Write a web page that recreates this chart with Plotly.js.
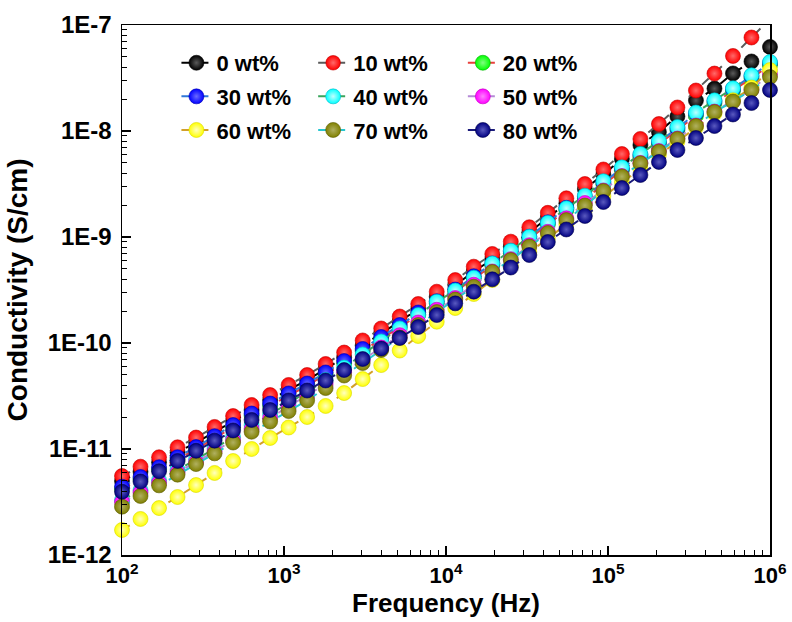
<!DOCTYPE html>
<html><head><meta charset="utf-8">
<script src="https://cdn.plot.ly/plotly-3.0.1.min.js"></script>
<style>html,body{margin:0;padding:0;background:#fff}#chart{width:792px;height:622px}</style>
</head><body><div id="chart"></div>
<script>
// Frequency grid (Hz)
const frequencyHz = [100, 130.1, 169.3, 220.2, 286.5, 372.8, 485.0, 631.0, 820.9, 1068, 1389, 1807, 2351, 3059, 3981, 5179, 6738, 8766, 11404, 14838, 19307, 25119, 32679, 42517, 55317, 71969, 93633, 121818, 158489, 206200, 268270, 349030, 454090, 590780, 768610, 1000000];

const seriesNames = ['0 wt%', '10 wt%', '20 wt%', '30 wt%', '40 wt%', '50 wt%', '60 wt%', '70 wt%', '80 wt%'];

// log10 of conductivity (S/cm)
const log10Sigma_0wt = [-11.302,-11.214,-11.125,-11.031,-10.939,-10.839,-10.736,-10.632,-10.538,-10.443,-10.349,-10.245,-10.137,-10.023,-9.910,-9.797,-9.679,-9.563,-9.453,-9.327,-9.207,-9.091,-8.955,-8.819,-8.682,-8.547,-8.410,-8.264,-8.132,-8.009,-7.863,-7.712,-7.600,-7.457,-7.344,-7.207];
const log10Sigma_10wt = [-11.255,-11.167,-11.078,-10.984,-10.892,-10.792,-10.689,-10.585,-10.491,-10.396,-10.302,-10.198,-10.090,-9.976,-9.863,-9.750,-9.632,-9.516,-9.406,-9.280,-9.160,-9.044,-8.908,-8.772,-8.635,-8.500,-8.363,-8.217,-8.075,-7.934,-7.778,-7.618,-7.458,-7.292,-7.118,-6.943];
const log10Sigma_20wt = [-11.376,-11.284,-11.192,-11.097,-11.002,-10.899,-10.794,-10.685,-10.591,-10.496,-10.402,-10.298,-10.190,-10.076,-9.963,-9.850,-9.732,-9.626,-9.516,-9.390,-9.270,-9.154,-9.018,-8.882,-8.745,-8.640,-8.503,-8.372,-8.246,-8.124,-7.991,-7.855,-7.737,-7.623,-7.501,-7.378];
const log10Sigma_30wt = [-11.356,-11.264,-11.172,-11.077,-10.982,-10.879,-10.774,-10.665,-10.571,-10.476,-10.382,-10.278,-10.170,-10.056,-9.943,-9.830,-9.712,-9.606,-9.496,-9.370,-9.250,-9.134,-8.998,-8.862,-8.725,-8.620,-8.483,-8.352,-8.226,-8.104,-7.971,-7.835,-7.717,-7.603,-7.481,-7.358];
const log10Sigma_40wt = [-11.481,-11.389,-11.295,-11.196,-11.100,-10.995,-10.887,-10.774,-10.670,-10.566,-10.462,-10.349,-10.232,-10.108,-9.986,-9.863,-9.736,-9.610,-9.505,-9.384,-9.250,-9.129,-8.998,-8.866,-8.729,-8.610,-8.473,-8.343,-8.217,-8.094,-7.962,-7.826,-7.710,-7.597,-7.474,-7.349];
const log10Sigma_50wt = [-11.500,-11.410,-11.318,-11.221,-11.126,-11.023,-10.917,-10.811,-10.708,-10.604,-10.500,-10.387,-10.276,-10.159,-10.042,-9.926,-9.806,-9.686,-9.576,-9.450,-9.325,-9.209,-9.078,-8.951,-8.824,-8.679,-8.561,-8.425,-8.301,-8.189,-8.071,-7.948,-7.817,-7.717,-7.609,-7.462];
const log10Sigma_60wt = [-11.764,-11.660,-11.557,-11.453,-11.340,-11.226,-11.113,-11.000,-10.896,-10.797,-10.698,-10.594,-10.472,-10.340,-10.208,-10.071,-9.934,-9.799,-9.670,-9.538,-9.406,-9.274,-9.142,-9.009,-8.877,-8.745,-8.613,-8.481,-8.354,-8.226,-8.099,-7.967,-7.835,-7.710,-7.590,-7.425];
const log10Sigma_70wt = [-11.544,-11.443,-11.343,-11.242,-11.142,-11.041,-10.939,-10.837,-10.741,-10.642,-10.542,-10.425,-10.307,-10.189,-10.066,-9.948,-9.830,-9.708,-9.590,-9.469,-9.330,-9.217,-9.090,-8.962,-8.840,-8.703,-8.566,-8.429,-8.305,-8.195,-8.075,-7.953,-7.821,-7.722,-7.613,-7.491];
const log10Sigma_80wt = [-11.403,-11.307,-11.210,-11.113,-11.017,-10.921,-10.825,-10.726,-10.632,-10.542,-10.448,-10.354,-10.255,-10.151,-10.052,-9.953,-9.849,-9.736,-9.626,-9.516,-9.399,-9.288,-9.170,-9.047,-8.929,-8.802,-8.670,-8.538,-8.415,-8.292,-8.179,-8.066,-7.953,-7.844,-7.736,-7.613];

const yTickVals = [1e-12, 1e-11, 1e-10, 1e-9, 1e-8, 1e-7];
const yTickText = ['1E-12', '1E-11', '1E-10', '1E-9', '1E-8', '1E-7'];
const xTickVals = [1e2, 1e3, 1e4, 1e5, 1e6];
const xTickText = ['10<sup>2</sup>', '10<sup>3</sup>', '10<sup>4</sup>', '10<sup>5</sup>', '10<sup>6</sup>'];

const allLog = [log10Sigma_0wt, log10Sigma_10wt, log10Sigma_20wt, log10Sigma_30wt, log10Sigma_40wt, log10Sigma_50wt, log10Sigma_60wt, log10Sigma_70wt, log10Sigma_80wt];

// styles
const markerColors = ['#000000', '#ff0000', '#00ff00', '#0000ff', '#00ffff', '#ff00ff', '#ffff00', '#808000', '#000080'];
const highlightColors = ['#5a5a5a', '#ff6a6a', '#80ff80', '#6a6aff', '#c0ffff', '#ff80ff', '#ffffc0', '#b0b060', '#5a5ac0'];
const edgeColors = ['#000000', '#c00000', '#00b000', '#0000b0', '#00b8c8', '#c000c0', '#d8d800', '#5a5a00', '#00004a'];
const lineColors = ['#000000', '#5a5a5a', '#e8403c', '#2f78d8', '#3aa55c', '#b58ad6', '#d2a02a', '#26c6d0', '#1a1a7a'];
const legendOf = ['legend', 'legend2', 'legend3', 'legend', 'legend2', 'legend3', 'legend', 'legend2', 'legend3'];

const yMin = -12, yMax = -7;
const traces = allLog.map((lg, i) => {
  const y = lg.map(v => Math.pow(10, v));
  const sizes = lg.map(v => (v > yMax ? 0 : 15));
  return {
    type: 'scatter', mode: 'lines+markers', name: seriesNames[i],
    x: frequencyHz, y: y,
    cliponaxis: false,
    legend: legendOf[i], legendgroup: 'g' + i,
    line: {color: lineColors[i], width: 2, dash: 'dash'},
    marker: {symbol: 'circle', size: sizes, opacity: 1, color: markerColors[i],
             gradient: {type: 'radial', color: highlightColors[i]},
             line: {width: 0.6, color: edgeColors[i]}}
  };
});

const minorX = [];
for (let d = 2; d < 6; d++) for (let m = 2; m <= 9; m++) minorX.push(m * Math.pow(10, d));
const minorY = [];
for (let d = -12; d < -7; d++) for (let m = 2; m <= 9; m++) minorY.push(m * Math.pow(10, d));

const font = {family: 'Liberation Sans, Arial, sans-serif', color: '#000', weight: 'bold'};
const legendCommon = {
  orientation: 'v', bgcolor: 'rgba(0,0,0,0)', borderwidth: 0,
  font: Object.assign({}, font, {size: 22}), tracegroupgap: 2,
  yanchor: 'top', y: 0.968, xanchor: 'left'
};

const layout = {
  width: 792, height: 622,
  margin: {l: 122, r: 22, t: 25, b: 67},
  paper_bgcolor: '#fff', plot_bgcolor: '#fff',
  font: font,
  showlegend: true,
  legend: Object.assign({}, legendCommon, {x: 0.084}),
  legend2: Object.assign({}, legendCommon, {x: 0.295}),
  legend3: Object.assign({}, legendCommon, {x: 0.526}),
  xaxis: {
    type: 'log', range: [2, 6],
    tickvals: xTickVals, ticktext: xTickText,
    tickfont: Object.assign({}, font, {size: 22}),
    ticks: 'inside', ticklen: 9, tickwidth: 1.5, tickcolor: '#000',
    minor: {tickvals: minorX, ticks: 'inside', ticklen: 5, tickwidth: 1, tickcolor: '#000', showgrid: false},
    showline: true, linecolor: '#000', linewidth: 1.5, mirror: true,
    showgrid: false, zeroline: false,
    title: {text: 'Frequency (Hz)', font: Object.assign({}, font, {size: 26}), standoff: 2}
  },
  yaxis: {
    type: 'log', range: [yMin, yMax],
    tickvals: yTickVals, ticktext: yTickText,
    tickfont: Object.assign({}, font, {size: 24}),
    ticklabelstandoff: 4,
    ticks: 'inside', ticklen: 9, tickwidth: 1.5, tickcolor: '#000',
    minor: {tickvals: minorY, ticks: 'inside', ticklen: 5, tickwidth: 1, tickcolor: '#000', showgrid: false},
    showline: true, linecolor: '#000', linewidth: 1.5, mirror: true,
    showgrid: false, zeroline: false,
    title: {text: 'Conductivity (S/cm)', font: Object.assign({}, font, {size: 28}), standoff: 12}
  }
};

Plotly.newPlot('chart', traces, layout, {displayModeBar: false, staticPlot: true});
</script>
</body></html>
